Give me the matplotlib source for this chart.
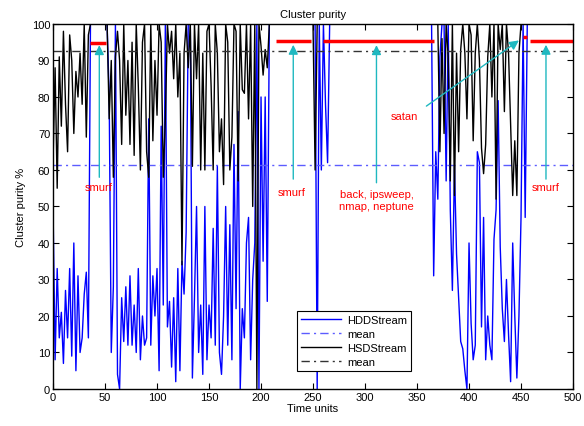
import numpy as np
import matplotlib
matplotlib.use("Agg")
import matplotlib.pyplot as plt

plt.rcParams['font.family'] = ['Liberation Sans', 'DejaVu Sans']
plt.rcParams['font.size'] = 8

# time axis, one sample every 2 time units
time_units = np.arange(0, 501, 2)

# HDDStream purity (%)
hdd_purity = [
    50, 8, 33, 14, 21, 7, 27, 14, 33, 9,            # 0
    40, 5, 31, 10, 14, 26, 32, 14, 100, 100,        # 20
    100, 100, 100, 100, 100, 100, 100, 80, 10, 28,  # 40
    100, 4, 0, 25, 13, 28, 12, 31, 12, 23,          # 60
    10, 33, 8, 20, 12, 14, 74, 12, 31, 20,          # 80
    33, 5, 72, 23, 100, 17, 24, 6, 25, 2,           # 100
    33, 5, 35, 26, 43, 100, 100, 3, 25, 50,         # 120
    10, 23, 4, 50, 8, 23, 14, 44, 12, 61,           # 140
    10, 4, 20, 50, 12, 45, 8, 67, 22, 76,           # 160
    0, 22, 14, 40, 47, 8, 30, 40, 100, 0,           # 180
    80, 35, 80, 24, 100, 100, 100, 100, 100, 100,   # 200
    100, 100, 100, 100, 100, 100, 100, 100, 100, 100,  # 220
    100, 100, 100, 100, 100, 100, 100, 0, 100, 60,     # 240
    100, 78, 62, 100, 100, 100, 100, 100, 100, 100,    # 260
    100, 100, 100, 100, 100, 100, 100, 100, 100, 100,  # 280
    100, 100, 100, 100, 100, 100, 100, 100, 100, 100,  # 300
    100, 100, 100, 100, 100, 100, 100, 100, 100, 100,  # 320
    100, 100, 100, 100, 100, 100, 100, 100, 100, 100,  # 340
    100, 100, 100, 31, 65, 52, 91, 100, 100, 57,    # 360
    100, 49, 27, 61, 37, 25, 13, 11, 5, 0,          # 380
    40, 18, 8, 12, 65, 62, 17, 47, 8, 20,           # 400
    12, 8, 41, 49, 79, 39, 22, 13, 30, 15,          # 420
    2, 40, 20, 3, 20, 47, 100, 47, 100, 100,        # 440
    100, 100, 100, 100, 100, 100, 100, 100, 100, 100,  # 460
    100, 100, 100, 100, 100, 100, 100, 100, 100, 100,  # 480
    100,
]

# HSDStream purity (%)
hsd_purity = [
    62, 88, 55, 91, 72, 98, 78, 65, 97, 90,         # 0
    70, 87, 80, 92, 78, 100, 69, 97, 100, 100,      # 20
    100, 100, 100, 100, 100, 100, 100, 74, 90, 58,  # 40
    91, 98, 90, 67, 100, 75, 90, 67, 95, 64,        # 60
    100, 83, 60, 95, 100, 65, 58, 100, 68, 90,      # 80
    75, 100, 95, 58, 74, 100, 92, 98, 85, 100,      # 100
    80, 92, 34, 92, 100, 88, 100, 61, 100, 85,      # 120
    100, 60, 92, 60, 98, 100, 83, 60, 100, 92,      # 140
    65, 74, 56, 100, 95, 60, 69, 100, 98, 57,       # 160
    100, 82, 81, 100, 74, 100, 50, 100, 0, 100,     # 180
    94, 86, 93, 88, 100, 100, 100, 100, 100, 100,   # 200
    100, 100, 100, 100, 100, 100, 100, 100, 100, 100,  # 220
    100, 100, 100, 100, 100, 100, 60, 100, 100, 100,   # 240
    100, 100, 100, 100, 100, 100, 100, 100, 100, 100,  # 260
    100, 100, 100, 100, 100, 100, 100, 100, 100, 100,  # 280
    100, 100, 100, 100, 100, 100, 100, 100, 100, 100,  # 300
    100, 100, 100, 100, 100, 100, 100, 100, 100, 100,  # 320
    100, 100, 100, 100, 100, 100, 100, 100, 100, 100,  # 340
    100, 100, 100, 100, 100, 100, 65, 96, 70, 100,  # 360
    91, 57, 100, 53, 92, 65, 93, 100, 92, 74,       # 380
    100, 97, 68, 92, 100, 90, 66, 59, 67, 91,       # 400
    100, 80, 100, 52, 100, 93, 100, 76, 100, 92,    # 420
    73, 53, 68, 53, 92, 100, 100, 100, 100, 100,    # 440
    100, 100, 100, 100, 100, 100, 100, 100, 100, 100,  # 460
    100, 100, 100, 100, 100, 100, 100, 100, 100, 100,  # 480
    100,
]

hdd_mean = 61.3
hsd_mean = 92.7

# attack periods (red bars)
attack_start = [36, 214, 260, 452, 459]
attack_end = [51, 248, 366, 456, 500]
attack_level = [94.9, 95.4, 95.2, 96.5, 95.4]

# labels: text, text position, arrow tail, arrow head
attack_labels = ["smurf", "smurf", "back, ipsweep,\nnmap, neptune", "satan", "smurf"]
label_x = [43.5, 229.5, 311, 338, 474]
label_y = [55.3, 53.9, 51.8, 74.8, 55.2]
arrow_tail_x = [44.5, 231, 311, 359, 474]
arrow_tail_y = [58, 57.5, 56.5, 77.5, 57.5]
arrow_head_x = [44.5, 231, 311, 448, 474]
arrow_head_y = [94.2, 94.3, 94.2, 95.5, 94.3]

fig = plt.figure(figsize=(5.84, 4.27), dpi=100)
ax = fig.add_axes([0.0908, 0.0867, 0.8904, 0.8548])

ax.plot(time_units, hdd_purity, color='#0000ff', lw=1.0, label='HDDStream')
ax.axhline(hdd_mean, color='#5c5cff', lw=1.0, ls=(0, (6, 3, 1.5, 3)), label='mean')
ax.plot(time_units, hsd_purity, color='black', lw=1.0, label='HSDStream')
ax.axhline(hsd_mean, color='#333333', lw=1.0, ls=(0, (6, 3, 1.5, 3)), label='mean')

for s, e, lv in zip(attack_start, attack_end, attack_level):
    ax.plot([s, e], [lv, lv], color='#ff0000', lw=2.5, solid_capstyle='butt', zorder=4)

for i in range(len(attack_labels)):
    ax.annotate('', xy=(arrow_head_x[i], arrow_head_y[i]),
                xytext=(arrow_tail_x[i], arrow_tail_y[i]),
                arrowprops=dict(arrowstyle='-|>', color='#1fb8c0', lw=1.0,
                                mutation_scale=14, shrinkA=0, shrinkB=0),
                zorder=5)
    ax.text(label_x[i], label_y[i], attack_labels[i], color='#ff0000',
            ha='center', va='center', fontsize=8, linespacing=1.3, zorder=6)

ax.set_xlim(0, 500)
ax.set_ylim(0, 100)
ax.set_xticks(np.arange(0, 501, 50))
ax.set_yticks(np.arange(0, 101, 10))
ax.tick_params(direction='in', top=True, right=True, length=4, width=0.8, labelsize=8, pad=2)
for sp in ax.spines.values():
    sp.set_linewidth(1.0)
    sp.set_zorder(7)

ax.set_xlabel('Time units', fontsize=8, labelpad=1)
ax.set_ylabel('Cluster purity %', fontsize=8, labelpad=4)
ax.set_title('Cluster purity', fontsize=8, pad=5)

leg = ax.legend(loc='lower left', bbox_to_anchor=(0.469, 0.049), fontsize=8,
                fancybox=False, framealpha=1, edgecolor='black',
                handlelength=3.6, borderpad=0.4, labelspacing=0.35,
                handletextpad=0.5, borderaxespad=0)
leg.get_frame().set_linewidth(0.8)
leg.set_zorder(8)

fig.savefig('out.png', dpi=100)
